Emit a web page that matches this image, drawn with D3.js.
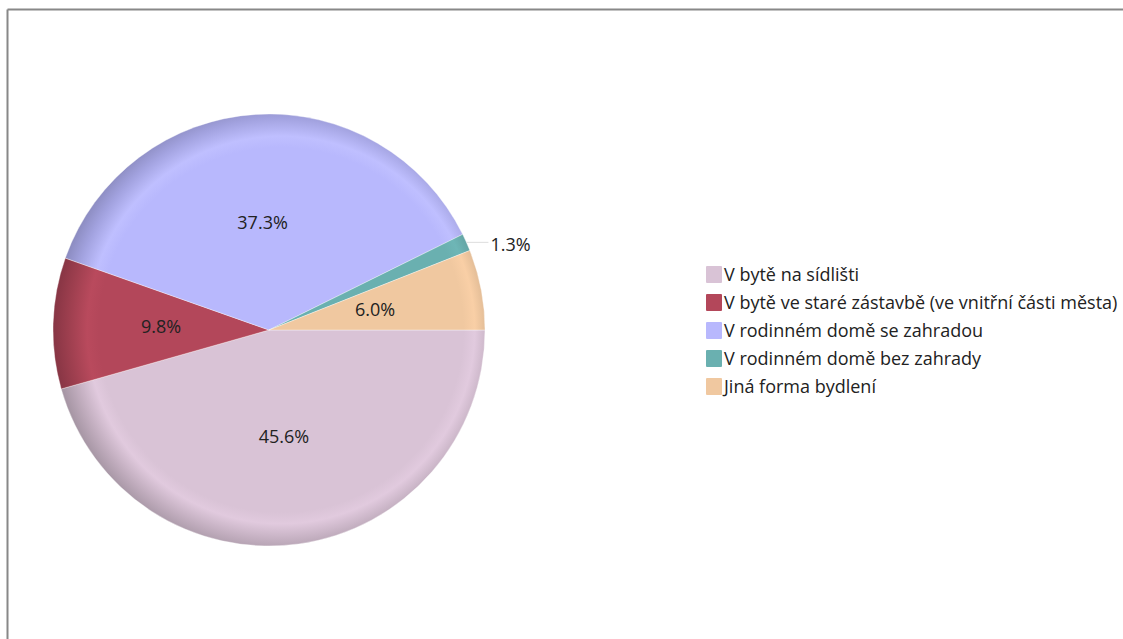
<!DOCTYPE html>
<html><head><meta charset="utf-8">
<script src="https://cdn.jsdelivr.net/npm/d3@7"></script>
<style>
body{margin:0;background:#fff;}
svg{display:block;font-family:"Open Sans","Noto Sans",sans-serif;}
</style></head>
<body>
<svg id="c" width="1123" height="639"></svg>
<script>
const categories = ["V bytě na sídlišti","V bytě ve staré zástavbě (ve vnitřní části města)","V rodinném domě se zahradou","V rodinném domě bez zahrady","Jiná forma bydlení"];
const values = [45.6, 9.8, 37.3, 1.3, 6.0];
const colors = ["#d9c3d6","#b3475a","#b8b8fd","#6ab0b0","#f0c8a0"];

const svg = d3.select("#c");
// frame
svg.append("line").attr("x1",7.5).attr("y1",9.5).attr("x2",1123).attr("y2",9.5).attr("stroke","#888").attr("stroke-width",2);
svg.append("line").attr("x1",7.5).attr("y1",9.5).attr("x2",7.5).attr("y2",639).attr("stroke","#888").attr("stroke-width",2);

const cx = 269, cy = 330, R = 216;
const defs = svg.append("defs");
colors.forEach((c,i)=>{
  const g = defs.append("radialGradient").attr("id","g"+i)
    .attr("gradientUnits","userSpaceOnUse").attr("cx",12).attr("cy",0).attr("r",R+12)
    .attr("fx",12).attr("fy",0);
  const base = d3.color(c);
  g.append("stop").attr("offset","0%").attr("stop-color",c);
  g.append("stop").attr("offset","80%").attr("stop-color",c);
  g.append("stop").attr("offset","85%").attr("stop-color",base.brighter(0.1).formatHex());
  g.append("stop").attr("offset","93%").attr("stop-color",base.darker(0.35).formatHex());
  g.append("stop").attr("offset","100%").attr("stop-color",base.darker(0.8).formatHex());
});

const pie = d3.pie().sort(null).value(d=>d).startAngle(Math.PI/2).endAngle(Math.PI/2 + 2*Math.PI);
const arcs = pie(values);
const arc = d3.arc().innerRadius(0).outerRadius(R);
const labelArc = d3.arc().innerRadius(R*0.5).outerRadius(R*0.5);

const gp = svg.append("g").attr("transform",`translate(${cx},${cy})`);
gp.selectAll("path").data(arcs).join("path")
  .attr("d",arc).attr("fill",(d,i)=>`url(#g${i})`)
  .attr("stroke","#fff").attr("stroke-width",0.6).attr("stroke-opacity",0.6);

const fmt = v => v.toFixed(1)+"%";
arcs.forEach((d,i)=>{
  if (values[i] < 3) {
    const a = (d.startAngle+d.endAngle)/2;
    const x0 = Math.sin(a)*R, y0 = -Math.cos(a)*R;
    gp.append("line").attr("x1",x0).attr("y1",y0).attr("x2",x0+22).attr("y2",y0)
      .attr("stroke","#ddd").attr("stroke-width",1);
    gp.append("text").attr("x",x0+24).attr("y",y0+2).attr("dy","0.35em")
      .attr("font-size",18).attr("fill","#222").text(fmt(values[i]));
  } else {
    const [x,y] = labelArc.centroid(d);
    gp.append("text").attr("x",x).attr("y",y).attr("dy","0.35em").attr("text-anchor","middle")
      .attr("font-size",18).attr("fill","#222").text(fmt(values[i]));
  }
});

const lg = svg.append("g").attr("transform","translate(706,266)");
const row = lg.selectAll("g").data(categories).join("g").attr("transform",(d,i)=>`translate(0,${i*28})`);
row.append("rect").attr("width",16).attr("height",17).attr("rx",1).attr("fill",(d,i)=>colors[i]);
row.append("text").attr("x",18).attr("y",8.5).attr("dy","0.35em").attr("font-size",18).attr("fill","#222").text(d=>d);
</script>
</body></html>
